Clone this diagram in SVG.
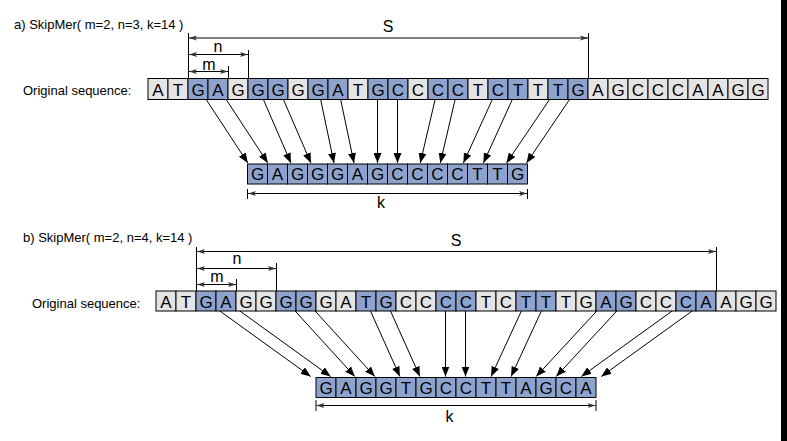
<svg xmlns="http://www.w3.org/2000/svg" width="787" height="441" viewBox="0 0 787 441">
<style>
.t{font-family:"Liberation Sans",Arial,sans-serif;font-size:13px;fill:#000}
.lb{font-family:"Liberation Sans",Arial,sans-serif;font-size:16px;fill:#000;text-anchor:middle}
.c{font-family:"Liberation Sans",Arial,sans-serif;font-size:17px;fill:#000;text-anchor:middle}
.b{fill:#8da3ce;stroke:#000;stroke-width:1}
.g{fill:#e4e4e4;stroke:#000;stroke-width:1}
.cn{stroke:#000;stroke-width:1;fill:none;marker-end:url(#ah)}
.dim{stroke:#000;stroke-width:1;fill:none;marker-start:url(#da);marker-end:url(#da)}
.ext{stroke:#000;stroke-width:1;fill:none}
</style>
<defs>
<marker id="ah" markerUnits="userSpaceOnUse" viewBox="0 0 10 8" markerWidth="10" markerHeight="8" refX="10" refY="4" orient="auto">
<path d="M0,0 L10,4 L0,8 z" fill="#000"/>
</marker>
<marker id="da" markerUnits="userSpaceOnUse" viewBox="0 0 8 6" markerWidth="8" markerHeight="6" refX="8" refY="3" orient="auto-start-reverse">
<path d="M0,0.5 L8,3 L0,5.5 L2,3 z" fill="#333"/>
</marker>
</defs>
<rect x="0" y="0" width="787" height="441" fill="#fff"/>
<rect x="781" y="0" width="6" height="441" fill="#000"/>

<text class="t" x="14" y="29">a) SkipMer( m=2, n=3, k=14 )</text>
<text class="t" x="23" y="242">b) SkipMer( m=2, n=4, k=14 )</text>

<g id="connectors-a">
<line class="cn" x1="198" y1="87" x2="247.8" y2="163"/>
<line class="cn" x1="218" y1="87" x2="267.8" y2="163"/>
<line class="cn" x1="258" y1="87" x2="290.9" y2="163"/>
<line class="cn" x1="278" y1="87" x2="310.9" y2="163"/>
<line class="cn" x1="318" y1="87" x2="334.0" y2="163"/>
<line class="cn" x1="338" y1="87" x2="354.0" y2="163"/>
<line class="cn" x1="377.5" y1="87" x2="377.5" y2="163"/>
<line class="cn" x1="397.5" y1="87" x2="397.5" y2="163"/>
<line class="cn" x1="438" y1="87" x2="420.3" y2="163"/>
<line class="cn" x1="458" y1="87" x2="440.3" y2="163"/>
<line class="cn" x1="498" y1="87" x2="463.4" y2="163"/>
<line class="cn" x1="518" y1="87" x2="483.4" y2="163"/>
<line class="cn" x1="558" y1="87" x2="506.5" y2="163"/>
<line class="cn" x1="578" y1="87" x2="526.5" y2="163"/>
</g>

<g id="connectors-b">
<line class="cn" x1="206" y1="301" x2="310.7" y2="376.5"/>
<line class="cn" x1="226" y1="301" x2="330.7" y2="376.5"/>
<line class="cn" x1="286" y1="301" x2="354.8" y2="376.5"/>
<line class="cn" x1="306" y1="301" x2="374.8" y2="376.5"/>
<line class="cn" x1="366" y1="301" x2="399.9" y2="376.5"/>
<line class="cn" x1="386" y1="301" x2="419.9" y2="376.5"/>
<line class="cn" x1="445.5" y1="301" x2="445.5" y2="376.5"/>
<line class="cn" x1="465.5" y1="301" x2="465.5" y2="376.5"/>
<line class="cn" x1="526" y1="301" x2="491.1" y2="376.5"/>
<line class="cn" x1="546" y1="301" x2="511.1" y2="376.5"/>
<line class="cn" x1="606" y1="301" x2="536.2" y2="376.5"/>
<line class="cn" x1="626" y1="301" x2="556.2" y2="376.5"/>
<line class="cn" x1="686" y1="301" x2="581.3" y2="376.5"/>
<line class="cn" x1="706" y1="301" x2="601.3" y2="376.5"/>
</g>

<g id="dimensions-a">
<line class="ext" x1="188.5" y1="33" x2="188.5" y2="79"/>
<line class="ext" x1="588.5" y1="33" x2="588.5" y2="79"/>
<line class="ext" x1="248.5" y1="50" x2="248.5" y2="79"/>
<line class="ext" x1="228.5" y1="66" x2="228.5" y2="79"/>
<line class="dim" x1="189" y1="38" x2="588" y2="38"/>
<line class="dim" x1="189" y1="54.5" x2="248" y2="54.5"/>
<line class="dim" x1="189" y1="71.5" x2="228" y2="71.5"/>
<text class="lb" x="388" y="31.5">S</text>
<text class="lb" x="218" y="52">n</text>
<text class="lb" x="209" y="69.5">m</text>
<line class="ext" x1="247.5" y1="189" x2="247.5" y2="199"/>
<line class="ext" x1="527.5" y1="189" x2="527.5" y2="199"/>
<line class="dim" x1="248" y1="193.5" x2="527" y2="193.5"/>
<text class="lb" x="381" y="208">k</text>
</g>

<g id="dimensions-b">
<line class="ext" x1="196.5" y1="247" x2="196.5" y2="291"/>
<line class="ext" x1="716.5" y1="247" x2="716.5" y2="291"/>
<line class="ext" x1="276.5" y1="263" x2="276.5" y2="291"/>
<line class="ext" x1="236.5" y1="279" x2="236.5" y2="291"/>
<line class="dim" x1="197" y1="251.5" x2="716" y2="251.5"/>
<line class="dim" x1="197" y1="268.5" x2="276" y2="268.5"/>
<line class="dim" x1="197" y1="284.5" x2="236" y2="284.5"/>
<text class="lb" x="456" y="246">S</text>
<text class="lb" x="237" y="264">n</text>
<text class="lb" x="217" y="281.5">m</text>
<line class="ext" x1="316" y1="400" x2="316" y2="411"/>
<line class="ext" x1="596" y1="400" x2="596" y2="411"/>
<line class="dim" x1="316.5" y1="405.5" x2="595.5" y2="405.5"/>
<text class="lb" x="449.5" y="421.5">k</text>
</g>

<g id="original-a">
<text class="t" x="23" y="95">Original sequence:</text>
<rect class="g" x="148" y="78.5" width="20" height="21"/><text class="c" x="158" y="95.5">A</text>
<rect class="g" x="168" y="78.5" width="20" height="21"/><text class="c" x="178" y="95.5">T</text>
<rect class="b" x="188" y="78.5" width="20" height="21"/><text class="c" x="198" y="95.5">G</text>
<rect class="b" x="208" y="78.5" width="20" height="21"/><text class="c" x="218" y="95.5">A</text>
<rect class="g" x="228" y="78.5" width="20" height="21"/><text class="c" x="238" y="95.5">G</text>
<rect class="b" x="248" y="78.5" width="20" height="21"/><text class="c" x="258" y="95.5">G</text>
<rect class="b" x="268" y="78.5" width="20" height="21"/><text class="c" x="278" y="95.5">G</text>
<rect class="g" x="288" y="78.5" width="20" height="21"/><text class="c" x="298" y="95.5">G</text>
<rect class="b" x="308" y="78.5" width="20" height="21"/><text class="c" x="318" y="95.5">G</text>
<rect class="b" x="328" y="78.5" width="20" height="21"/><text class="c" x="338" y="95.5">A</text>
<rect class="g" x="348" y="78.5" width="20" height="21"/><text class="c" x="358" y="95.5">T</text>
<rect class="b" x="368" y="78.5" width="20" height="21"/><text class="c" x="378" y="95.5">G</text>
<rect class="b" x="388" y="78.5" width="20" height="21"/><text class="c" x="398" y="95.5">C</text>
<rect class="g" x="408" y="78.5" width="20" height="21"/><text class="c" x="418" y="95.5">C</text>
<rect class="b" x="428" y="78.5" width="20" height="21"/><text class="c" x="438" y="95.5">C</text>
<rect class="b" x="448" y="78.5" width="20" height="21"/><text class="c" x="458" y="95.5">C</text>
<rect class="g" x="468" y="78.5" width="20" height="21"/><text class="c" x="478" y="95.5">T</text>
<rect class="b" x="488" y="78.5" width="20" height="21"/><text class="c" x="498" y="95.5">C</text>
<rect class="b" x="508" y="78.5" width="20" height="21"/><text class="c" x="518" y="95.5">T</text>
<rect class="g" x="528" y="78.5" width="20" height="21"/><text class="c" x="538" y="95.5">T</text>
<rect class="b" x="548" y="78.5" width="20" height="21"/><text class="c" x="558" y="95.5">T</text>
<rect class="b" x="568" y="78.5" width="20" height="21"/><text class="c" x="578" y="95.5">G</text>
<rect class="g" x="588" y="78.5" width="20" height="21"/><text class="c" x="598" y="95.5">A</text>
<rect class="g" x="608" y="78.5" width="20" height="21"/><text class="c" x="618" y="95.5">G</text>
<rect class="g" x="628" y="78.5" width="20" height="21"/><text class="c" x="638" y="95.5">C</text>
<rect class="g" x="648" y="78.5" width="20" height="21"/><text class="c" x="658" y="95.5">C</text>
<rect class="g" x="668" y="78.5" width="20" height="21"/><text class="c" x="678" y="95.5">C</text>
<rect class="g" x="688" y="78.5" width="20" height="21"/><text class="c" x="698" y="95.5">A</text>
<rect class="g" x="708" y="78.5" width="20" height="21"/><text class="c" x="718" y="95.5">A</text>
<rect class="g" x="728" y="78.5" width="20" height="21"/><text class="c" x="738" y="95.5">G</text>
<rect class="g" x="748" y="78.5" width="20" height="21"/><text class="c" x="758" y="95.5">G</text>
</g>

<g id="skipmer-a">
<rect class="b" x="247.5" y="164" width="20" height="20"/><text class="c" x="257.5" y="180">G</text>
<rect class="b" x="267.5" y="164" width="20" height="20"/><text class="c" x="277.5" y="180">A</text>
<rect class="b" x="287.5" y="164" width="20" height="20"/><text class="c" x="297.5" y="180">G</text>
<rect class="b" x="307.5" y="164" width="20" height="20"/><text class="c" x="317.5" y="180">G</text>
<rect class="b" x="327.5" y="164" width="20" height="20"/><text class="c" x="337.5" y="180">G</text>
<rect class="b" x="347.5" y="164" width="20" height="20"/><text class="c" x="357.5" y="180">A</text>
<rect class="b" x="367.5" y="164" width="20" height="20"/><text class="c" x="377.5" y="180">G</text>
<rect class="b" x="387.5" y="164" width="20" height="20"/><text class="c" x="397.5" y="180">C</text>
<rect class="b" x="407.5" y="164" width="20" height="20"/><text class="c" x="417.5" y="180">C</text>
<rect class="b" x="427.5" y="164" width="20" height="20"/><text class="c" x="437.5" y="180">C</text>
<rect class="b" x="447.5" y="164" width="20" height="20"/><text class="c" x="457.5" y="180">C</text>
<rect class="b" x="467.5" y="164" width="20" height="20"/><text class="c" x="477.5" y="180">T</text>
<rect class="b" x="487.5" y="164" width="20" height="20"/><text class="c" x="497.5" y="180">T</text>
<rect class="b" x="507.5" y="164" width="20" height="20"/><text class="c" x="517.5" y="180">G</text>
</g>

<g id="original-b">
<text class="t" x="32" y="308">Original sequence:</text>
<rect class="g" x="156" y="291" width="20" height="20"/><text class="c" x="166" y="307.5">A</text>
<rect class="g" x="176" y="291" width="20" height="20"/><text class="c" x="186" y="307.5">T</text>
<rect class="b" x="196" y="291" width="20" height="20"/><text class="c" x="206" y="307.5">G</text>
<rect class="b" x="216" y="291" width="20" height="20"/><text class="c" x="226" y="307.5">A</text>
<rect class="g" x="236" y="291" width="20" height="20"/><text class="c" x="246" y="307.5">G</text>
<rect class="g" x="256" y="291" width="20" height="20"/><text class="c" x="266" y="307.5">G</text>
<rect class="b" x="276" y="291" width="20" height="20"/><text class="c" x="286" y="307.5">G</text>
<rect class="b" x="296" y="291" width="20" height="20"/><text class="c" x="306" y="307.5">G</text>
<rect class="g" x="316" y="291" width="20" height="20"/><text class="c" x="326" y="307.5">G</text>
<rect class="g" x="336" y="291" width="20" height="20"/><text class="c" x="346" y="307.5">A</text>
<rect class="b" x="356" y="291" width="20" height="20"/><text class="c" x="366" y="307.5">T</text>
<rect class="b" x="376" y="291" width="20" height="20"/><text class="c" x="386" y="307.5">G</text>
<rect class="g" x="396" y="291" width="20" height="20"/><text class="c" x="406" y="307.5">C</text>
<rect class="g" x="416" y="291" width="20" height="20"/><text class="c" x="426" y="307.5">C</text>
<rect class="b" x="436" y="291" width="20" height="20"/><text class="c" x="446" y="307.5">C</text>
<rect class="b" x="456" y="291" width="20" height="20"/><text class="c" x="466" y="307.5">C</text>
<rect class="g" x="476" y="291" width="20" height="20"/><text class="c" x="486" y="307.5">T</text>
<rect class="g" x="496" y="291" width="20" height="20"/><text class="c" x="506" y="307.5">C</text>
<rect class="b" x="516" y="291" width="20" height="20"/><text class="c" x="526" y="307.5">T</text>
<rect class="b" x="536" y="291" width="20" height="20"/><text class="c" x="546" y="307.5">T</text>
<rect class="g" x="556" y="291" width="20" height="20"/><text class="c" x="566" y="307.5">T</text>
<rect class="g" x="576" y="291" width="20" height="20"/><text class="c" x="586" y="307.5">G</text>
<rect class="b" x="596" y="291" width="20" height="20"/><text class="c" x="606" y="307.5">A</text>
<rect class="b" x="616" y="291" width="20" height="20"/><text class="c" x="626" y="307.5">G</text>
<rect class="g" x="636" y="291" width="20" height="20"/><text class="c" x="646" y="307.5">C</text>
<rect class="g" x="656" y="291" width="20" height="20"/><text class="c" x="666" y="307.5">C</text>
<rect class="b" x="676" y="291" width="20" height="20"/><text class="c" x="686" y="307.5">C</text>
<rect class="b" x="696" y="291" width="20" height="20"/><text class="c" x="706" y="307.5">A</text>
<rect class="g" x="716" y="291" width="20" height="20"/><text class="c" x="726" y="307.5">A</text>
<rect class="g" x="736" y="291" width="20" height="20"/><text class="c" x="746" y="307.5">G</text>
<rect class="g" x="756" y="291" width="20" height="20"/><text class="c" x="766" y="307.5">G</text>
</g>

<g id="skipmer-b">
<rect class="b" x="316" y="377.5" width="20" height="20"/><text class="c" x="326" y="393.5">G</text>
<rect class="b" x="336" y="377.5" width="20" height="20"/><text class="c" x="346" y="393.5">A</text>
<rect class="b" x="356" y="377.5" width="20" height="20"/><text class="c" x="366" y="393.5">G</text>
<rect class="b" x="376" y="377.5" width="20" height="20"/><text class="c" x="386" y="393.5">G</text>
<rect class="b" x="396" y="377.5" width="20" height="20"/><text class="c" x="406" y="393.5">T</text>
<rect class="b" x="416" y="377.5" width="20" height="20"/><text class="c" x="426" y="393.5">G</text>
<rect class="b" x="436" y="377.5" width="20" height="20"/><text class="c" x="446" y="393.5">C</text>
<rect class="b" x="456" y="377.5" width="20" height="20"/><text class="c" x="466" y="393.5">C</text>
<rect class="b" x="476" y="377.5" width="20" height="20"/><text class="c" x="486" y="393.5">T</text>
<rect class="b" x="496" y="377.5" width="20" height="20"/><text class="c" x="506" y="393.5">T</text>
<rect class="b" x="516" y="377.5" width="20" height="20"/><text class="c" x="526" y="393.5">A</text>
<rect class="b" x="536" y="377.5" width="20" height="20"/><text class="c" x="546" y="393.5">G</text>
<rect class="b" x="556" y="377.5" width="20" height="20"/><text class="c" x="566" y="393.5">C</text>
<rect class="b" x="576" y="377.5" width="20" height="20"/><text class="c" x="586" y="393.5">A</text>
</g>
</svg>
